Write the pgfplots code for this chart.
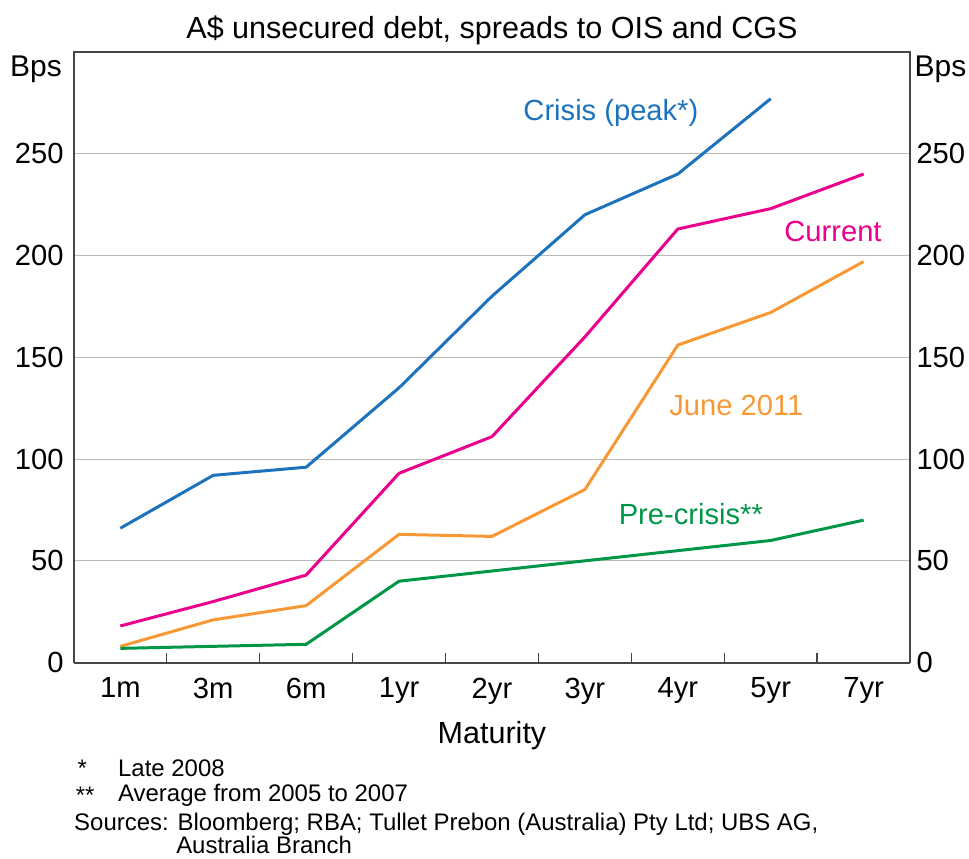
\documentclass[border=0pt]{standalone}
\usepackage{fontspec}
\setmainfont{Liberation Sans}
\usepackage{pgfplots}
\pgfplotsset{compat=1.18}
\definecolor{crisisblue}{RGB}{28,114,188}
\definecolor{currentpink}{RGB}{234,0,140}
\definecolor{juneorange}{RGB}{248,152,52}
\definecolor{pregreen}{RGB}{0,150,72}
\definecolor{framegray}{RGB}{70,70,70}

\begin{document}
\begin{tikzpicture}
\useasboundingbox (-37pt,-98pt) rectangle (448.5pt,332pt);
\pgfplotsset{
  chartbase/.style={
    scale only axis, width=419pt, height=306pt,
    xmin=-0.5, xmax=8.5, ymin=0, ymax=300,
    ytick={0,50,...,250},
    major tick length=0pt,
    /pgf/number format/assume math mode=true,
    tick label style={font=\fontsize{14.6}{17}\selectfont, text=black},
    axis line style={framegray, line width=0.7pt},
  }
}
\begin{axis}[chartbase,
  clip=false,
  xtick={0,...,8},
  xticklabels={1m,3m,6m,1yr,2yr,3yr,4yr,5yr,7yr},
  minor xtick={0.5,1.5,...,7.5},
  minor tick length=5pt,
  xtick pos=bottom,
  tick align=inside,
  minor tick style={framegray, line width=0.7pt},
  ymajorgrids, grid style={gray!55, line width=0.5pt},
  yticklabel pos=left,
  yticklabel style={inner sep=0pt, xshift=-5pt},
  xticklabel style={yshift=-4pt},
]
\addplot[crisisblue, line width=1.5pt] coordinates {
  (0,66)(1,92)(2,96)(3,135)(4,180)(5,220)(6,240)(7,277)
};
\addplot[currentpink, line width=1.5pt] coordinates {
  (0,18)(1,30)(2,43)(3,93)(4,111)(5,160)(6,213)(7,223)(8,240)
};
\addplot[juneorange, line width=1.5pt] coordinates {
  (0,8)(1,21)(2,28)(3,63)(4,62)(5,85)(6,156)(7,172)(8,197)
};
\addplot[pregreen, line width=1.5pt] coordinates {
  (0,7)(1,8)(2,9)(3,40)(4,45)(5,50)(6,55)(7,60)(8,70)
};
\draw[framegray, line width=1.1pt] (rel axis cs:0,0) -- (rel axis cs:1,0);

\node[font=\fontsize{15.3}{18}\selectfont] at (axis description cs:0.5,1.036) {A\$ unsecured debt, spreads to OIS and CGS};
\node[font=\fontsize{15.3}{18}\selectfont] at (axis description cs:0.5,-0.119) {Maturity};

\node[crisisblue, font=\fontsize{14.6}{17}\selectfont] at (axis cs:5.28,270) {Crisis (peak*)};
\node[currentpink, font=\fontsize{14.6}{17}\selectfont] at (axis cs:7.67,212) {Current};
\node[juneorange, font=\fontsize{14.6}{17}\selectfont] at (axis cs:6.63,126.5) {June 2011};
\node[pregreen, font=\fontsize{14.6}{17}\selectfont] at (axis cs:6.14,73) {Pre-crisis**};

\node[anchor=east, inner sep=0pt, font=\fontsize{15}{18}\selectfont] at (axis description cs:-0.014,0.971) {Bps};
\node[anchor=west, inner sep=0pt, font=\fontsize{15}{18}\selectfont] at (axis description cs:1.005,0.971) {Bps};

\begin{scope}[every node/.style={anchor=west, inner sep=0pt, font=\fontsize{12}{14}\selectfont}]
\node at (axis description cs:0.004,-0.173) {*};
\node at (axis description cs:0.0525,-0.173) {Late 2008};
\node at (axis description cs:0.002,-0.217) {**};
\node at (axis description cs:0.0525,-0.217) {Average from 2005 to 2007};
\node at (axis description cs:0.0,-0.265) {Sources: Bloomberg; RBA; Tullet Prebon (Australia) Pty Ltd; UBS AG,};
\node at (axis description cs:0.122,-0.299) {Australia Branch};
\end{scope}
\end{axis}
\begin{axis}[chartbase,
  hide x axis,
  axis y line*=right,
  yticklabel pos=right,
  yticklabel style={inner sep=0pt, xshift=3pt},
]
\end{axis}
\end{tikzpicture}
\end{document}
